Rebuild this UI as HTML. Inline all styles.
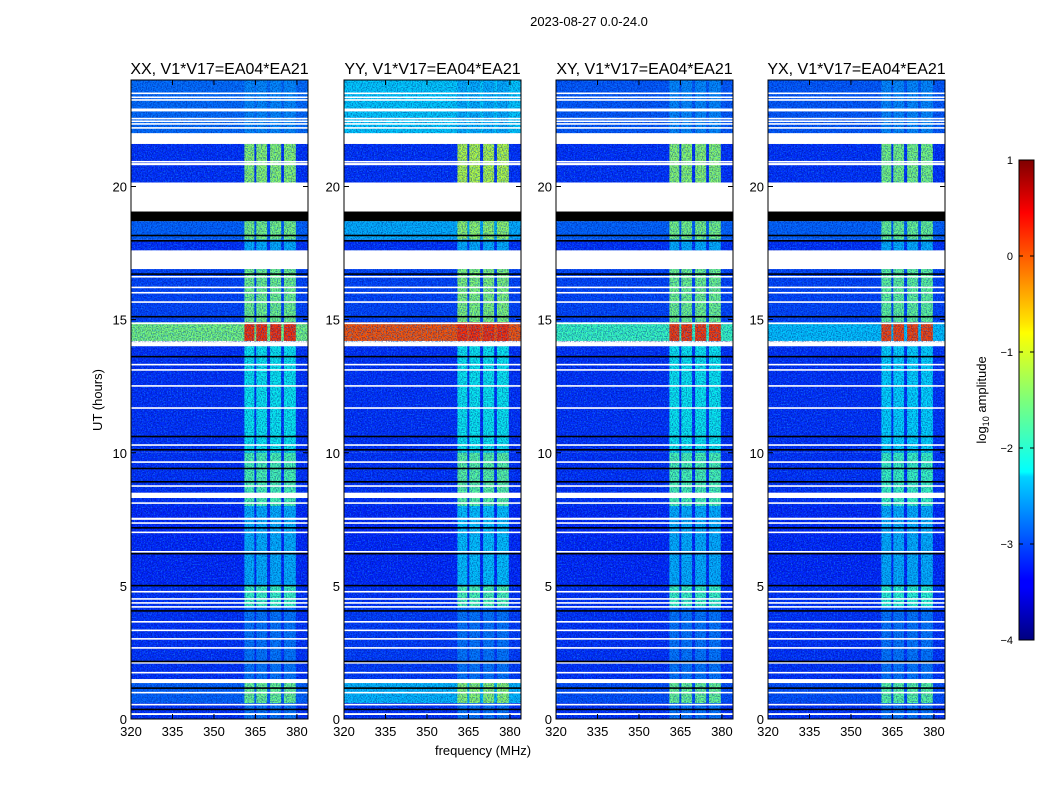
<!DOCTYPE html>
<html><head><meta charset="utf-8">
<style>
html,body{margin:0;padding:0;background:#fff;}
svg text{font-family:"Liberation Sans",sans-serif;fill:#000;}
</style></head>
<body>
<svg id="fig" width="1050" height="800" xmlns="http://www.w3.org/2000/svg">
<defs>
<filter id="noise" x="0" y="0" width="100%" height="100%" color-interpolation-filters="sRGB">
<feTurbulence type="fractalNoise" baseFrequency="0.8 0.8" numOctaves="1" seed="3" result="n"/>
<feColorMatrix in="n" type="matrix" values="0 0 0 0 0  0 0 0 0 0.05  0 0 0 0 0.45  4 0 0 0 -1.7"/>
</filter>
<filter id="noise2" x="0" y="0" width="100%" height="100%" color-interpolation-filters="sRGB">
<feTurbulence type="fractalNoise" baseFrequency="0.7 0.7" numOctaves="1" seed="11" result="n"/>
<feColorMatrix in="n" type="matrix" values="0 0 0 0 0.1  0 0 0 0 0.6  0 0 0 0 1  4 0 0 0 -2.0"/>
</filter>
<linearGradient id="jet" x1="0" y1="1" x2="0" y2="0">
<stop offset="0" stop-color="#00007f"/><stop offset="0.11" stop-color="#0000ff"/>
<stop offset="0.125" stop-color="#0000ff"/><stop offset="0.34" stop-color="#00d4ff"/>
<stop offset="0.35" stop-color="#0ff"/><stop offset="0.5" stop-color="#7dff7a"/>
<stop offset="0.64" stop-color="#ff0"/><stop offset="0.66" stop-color="#ffe600"/>
<stop offset="0.89" stop-color="#f00"/><stop offset="1" stop-color="#7f0000"/>
</linearGradient>
</defs>
<text x="589" y="26" font-size="13" text-anchor="middle">2023-08-27 0.0-24.0</text>
<text x="483" y="755" font-size="13" text-anchor="middle">frequency (MHz)</text>
<text x="0" y="0" font-size="13" text-anchor="middle" transform="translate(102,400) rotate(-90)">UT (hours)</text>
<g id="panels"></g>
<g>
<rect x="1019" y="160" width="15" height="480" fill="url(#jet)" stroke="#000" stroke-width="1"/>
<g id="cbticks"></g>
<text font-size="13" text-anchor="middle" transform="translate(986,400) rotate(-90)">log<tspan font-size="9" dy="3">10</tspan><tspan dy="-3"> amplitude</tspan></text>
</g>
</svg>
<script>
// ---- data ----
const panelTitles = ["XX, V1*V17=EA04*EA21","YY, V1*V17=EA04*EA21","XY, V1*V17=EA04*EA21","YX, V1*V17=EA04*EA21"];
const xTicks = [320,335,350,365,380];
const yTicks = [0,5,10,15,20];
const cbTicks = [1,0,-1,-2,-3,-4];
const cbTickLabels = ["1","0","\u22121","\u22122","\u22123","\u22124"];
// time segments [start,end] hours
const segStart = [22.0,20.15,18.0,17.6,14.9,14.2,10.0,8.0,5.0,4.2,1.5,0.6,0.0];
const segEnd   = [24.0,21.6,18.7,18.0,16.9,14.9,14.05,10.0,8.0,5.0,4.2,1.5,0.6];
// background log amplitude per panel per segment
const bgXX = [-2.85,-3.15,-2.9,-3.15,-3.05,-1.5,-3.15,-3.15,-3.2,-3.15,-3.15,-2.9,-3.15];
const bgYY = [-2.35,-3.15,-2.5,-3.15,-3.05,0.1,-3.15,-3.15,-3.2,-3.15,-3.1,-2.45,-3.15];
const bgXY = [-2.95,-3.15,-2.9,-3.15,-3.05,-1.9,-3.15,-3.15,-3.2,-3.15,-3.15,-3.0,-3.15];
const bgYX = [-2.95,-3.15,-2.9,-3.15,-3.05,-2.4,-3.15,-3.15,-3.2,-3.15,-3.15,-3.0,-3.15];
// RFI band log amplitude per panel per segment
const rfiXX = [-2.7,-1.4,-1.5,-2.5,-1.55,0.3,-2.2,-1.8,-2.5,-1.9,-2.8,-1.6,-2.8];
const rfiYY = [-2.5,-1.15,-1.35,-2.5,-1.45,0.3,-2.2,-1.7,-2.4,-1.8,-2.8,-1.4,-2.8];
const rfiXY = [-2.7,-1.4,-1.5,-2.5,-1.55,0.25,-2.2,-1.8,-2.5,-1.9,-2.8,-1.6,-2.8];
const rfiYX = [-2.7,-1.5,-1.6,-2.5,-1.65,0.2,-2.3,-1.9,-2.5,-2.0,-2.8,-1.7,-2.8];
// RFI frequency bands MHz
const bandLo = [361.0,365.3,370.3,375.3];
const bandHi = [364.6,369.2,374.3,379.6];
// flagged (white) time ranges, hours
const gapLo = [21.6,20.8,19.06,16.9,14.0,23.47,23.32,23.22,22.87,22.82,22.52,22.42,22.32,22.17,20.9,16.58,16.18,15.98,15.63,14.83,13.28,13.08,12.48,11.65,10.26,9.62,8.72,8.3,8.08,7.48,7.33,6.98,6.25,4.75,4.48,4.33,4.18,3.62,3.3,2.98,2.64,2.08,1.71,1.35,0.96,0.51,0.15];
const gapHi = [22.0,20.88,20.15,17.6,14.15,23.53,23.38,23.28,22.93,22.88,22.58,22.48,22.38,22.23,20.96,16.64,16.24,16.04,15.69,14.89,13.34,13.14,12.54,11.71,10.32,9.68,8.78,8.5,8.14,7.56,7.39,7.04,6.31,4.81,4.54,4.39,4.24,3.68,3.36,3.04,2.7,2.14,1.77,1.5,1.02,0.57,0.22];
// zero-amplitude (black) time ranges, hours
const blackLo = [18.7,10.58,10.08,9.38,8.88,7.15,6.18,4.98,4.03,2.13,1.13,0.33,13.58,15.08,18.13,17.93,16.68];
const blackHi = [19.06,10.64,10.14,9.44,8.94,7.21,6.24,5.04,4.09,2.19,1.19,0.39,13.64,15.14,18.19,17.99,16.74];

const bgAll=[bgXX,bgYY,bgXY,bgYX], rfiAll=[rfiXX,rfiYY,rfiXY,rfiYX];
const panelX=[131,344,556,768], PW=177, PT=80, PB=719;
const NS="http://www.w3.org/2000/svg";
function jet(v){ // matplotlib jet, v log amp -4..1
  const t=Math.max(0,Math.min(1,(v+4)/5));
  const seg=(pts)=>{for(let i=1;i<pts.length;i++){if(t<=pts[i][0]){const a=pts[i-1],b=pts[i];return a[1]+(b[1]-a[1])*(t-a[0])/(b[0]-a[0]);}}return pts[pts.length-1][1];};
  const r=seg([[0,0],[0.35,0],[0.66,1],[0.89,1],[1,0.5]]);
  const g=seg([[0,0],[0.125,0],[0.375,1],[0.64,1],[0.91,0],[1,0]]);
  const b=seg([[0,0.5],[0.11,1],[0.34,1],[0.65,0],[1,0]]);
  return `rgb(${Math.round(r*255)},${Math.round(g*255)},${Math.round(b*255)})`;
}
function mk(tag,attrs,parent){const e=document.createElementNS(NS,tag);for(const k in attrs)e.setAttribute(k,attrs[k]);parent.appendChild(e);return e;}
const panels=document.getElementById('panels');
for(let p=0;p<4;p++){
  const x0=panelX[p];
  const xs=f=>x0+(f-320)*PW/(384-320);
  const ys=h=>PB-(h/24)*(PB-PT);
  const g=mk('g',{},panels);
  
  
  const clipId='c'+p;
  const cp=mk('clipPath',{id:clipId},g); mk('rect',{x:x0,y:PT,width:PW,height:PB-PT},cp);
  const hm=mk('g',{'clip-path':`url(#${clipId})`},g);
  
  
  for(let s=0;s<segStart.length;s++){
    const y1=ys(segEnd[s]),y2=ys(segStart[s]);
    const r=mk('rect',{x:x0,y:y1,width:PW,height:y2-y1,fill:jet(bgAll[p][s])},hm);
    
    
    for(let b=0;b<bandLo.length;b++){
      const c=mk('rect',{x:xs(bandLo[b]),y:y1,width:xs(bandHi[b])-xs(bandLo[b]),height:y2-y1,fill:jet(rfiAll[p][s])},hm);
      
      
    }
  }
  mk('rect',{x:x0,y:PT,width:PW,height:PB-PT,filter:'url(#noise)',opacity:0.45},hm);
  mk('rect',{x:x0,y:PT,width:PW,height:PB-PT,filter:'url(#noise2)',opacity:0.5},hm);
  for(let i=0;i<gapLo.length;i++){
    const r=mk('rect',{x:x0,y:ys(gapHi[i]),width:PW,height:Math.max(1.2,ys(gapLo[i])-ys(gapHi[i])),fill:'#fff'},hm);
    
    
  }
  for(let i=0;i<blackLo.length;i++){
    const r=mk('rect',{x:x0,y:ys(blackHi[i]),width:PW,height:Math.max(1.2,ys(blackLo[i])-ys(blackHi[i])),fill:'#000'},hm);
    
    
  }
  mk('rect',{x:x0,y:PT,width:PW,height:PB-PT,fill:'none',stroke:'#000','stroke-width':1},g);
  xTicks.forEach(t=>{
    const x=xs(t);
    mk('line',{x1:x,x2:x,y1:PB,y2:PB-5,stroke:'#000'},g);
    mk('line',{x1:x,x2:x,y1:PT,y2:PT+5,stroke:'#000'},g);
    const tx=mk('text',{x:x,y:PB+17,'font-size':13,'text-anchor':'middle'},g);tx.textContent=t;
    
    
  });
  yTicks.forEach(t=>{
    const y=ys(t);
    mk('line',{x1:x0,x2:x0+5,y1:y,y2:y,stroke:'#000'},g);
    mk('line',{x1:x0+PW,x2:x0+PW-5,y1:y,y2:y,stroke:'#000'},g);
    const tx=mk('text',{x:x0-4,y:y+5,'font-size':13,'text-anchor':'end'},g);tx.textContent=t;
    
    
  });
  const tt=mk('text',{x:x0+PW/2,y:74,'font-size':16,'text-anchor':'middle'},g);tt.textContent=panelTitles[p];
  
  
}
const cbt=document.getElementById('cbticks');
cbTicks.forEach((v,i)=>{
  const y=640-(v+4)/5*480;
  mk('line',{x1:1019,x2:1023,y1:y,y2:y,stroke:'#000'},cbt);
  mk('line',{x1:1034,x2:1030,y1:y,y2:y,stroke:'#000'},cbt);
  const t=mk('text',{x:1013,y:y+4,'font-size':11,'text-anchor':'end'},cbt);t.textContent=cbTickLabels[i];
  
  
});
</script>
</body></html>
